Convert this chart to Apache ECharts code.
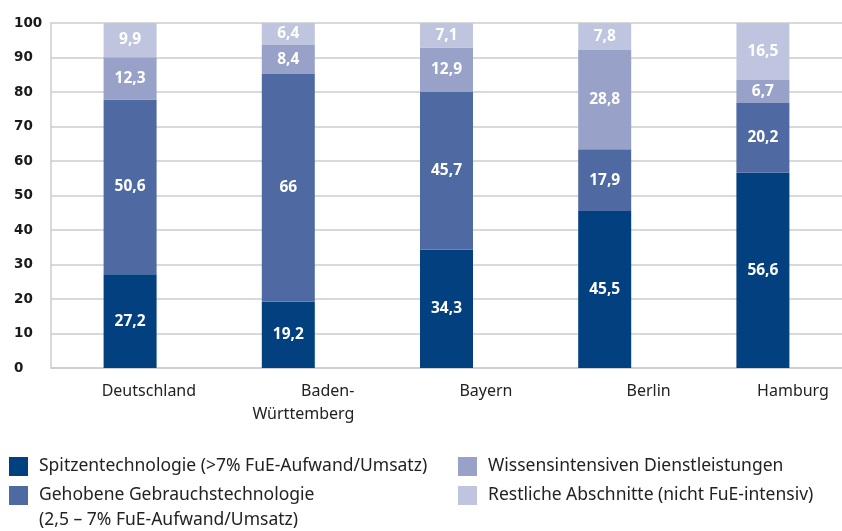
<!DOCTYPE html>
<html>
<head>
<meta charset="utf-8">
<script src="https://cdn.jsdelivr.net/npm/echarts@6/dist/echarts.min.js"></script>
<style>
  html, body { margin: 0; padding: 0; background: #fff; }
  #chart { width: 842px; height: 531px; }
</style>
</head>
<body>
<div id="chart"></div>
<script>
const regions = ['Deutschland', 'Baden-\nWürttemberg', 'Bayern', 'Berlin', 'Hamburg'];
const seriesNames = [
  'Spitzentechnologie (>7% FuE-Aufwand/Umsatz)',
  'Gehobene Gebrauchstechnologie',
  'Wissensintensiven Dienstleistungen',
  'Restliche Abschnitte (nicht FuE-intensiv)',
];
const spitze = [27.2, 19.2, 34.3, 45.5, 56.6];
const gehoben = [50.6, 66, 45.7, 17.9, 20.2];
const wissen = [12.3, 8.4, 12.9, 28.8, 6.7];
const rest = [9.9, 6.4, 7.1, 7.8, 16.5];
const yTicks = [0, 10, 20, 30, 40, 50, 60, 70, 80, 90, 100];

const colors = ['#02407f', '#4f6aa3', '#98a2c8', '#bfc5df'];
const font = '"Noto Sans", sans-serif';

const makeSeries = (name, data, color) => ({
  name,
  type: 'bar',
  stack: 'total',
  barWidth: 53,
  itemStyle: { color },
  label: {
    show: true,
    position: 'inside',
    color: '#fff',
    fontFamily: font,
    fontWeight: 'bold',
    fontSize: 15.5,
    formatter: p => String(p.value).replace('.', ','),
  },
  data,
});

const legendText = { fontFamily: font, fontSize: 17.5, color: '#222', padding: [5, 0, 0, 6] };

const chart = echarts.init(document.getElementById('chart'));
chart.setOption({
  animation: false,
  color: colors,
  grid: { left: 51, right: -2, top: 23, height: 345 },
  title: {
    text: '(2,5 – 7% FuE-Aufwand/Umsatz)',
    left: 39,
    top: 511,
    padding: 0,
    textStyle: { fontFamily: font, fontWeight: 'normal', fontSize: 17.5, color: '#222' },
  },
  legend: [
    {
      data: seriesNames.slice(0, 2),
      orient: 'vertical',
      left: 9,
      top: 457,
      padding: 0,
      itemWidth: 19,
      itemHeight: 19,
      itemGap: 10,
      icon: 'rect',
      textStyle: legendText,
    },
    {
      data: seriesNames.slice(2),
      orient: 'vertical',
      left: 458,
      top: 457,
      padding: 0,
      itemWidth: 19,
      itemHeight: 19,
      itemGap: 10,
      icon: 'rect',
      textStyle: legendText,
    },
  ],
  xAxis: {
    type: 'category',
    data: regions,
    axisLine: { lineStyle: { color: '#cccccc', width: 1.5 } },
    axisTick: { length: 9, lineStyle: { color: '#cccccc', width: 1.5 } },
    axisLabel: {
      margin: 12,
      formatter: v => v.split('\n').map(s => '{a|' + s + '}').join('\n'),
      rich: {
        a: { width: 132, align: 'right', fontFamily: font, fontSize: 16, color: '#222', lineHeight: 23 },
      },
    },
  },
  yAxis: {
    type: 'value',
    min: yTicks[0],
    max: yTicks[yTicks.length - 1],
    interval: 10,
    axisLine: { show: true, lineStyle: { color: '#cccccc', width: 1.5 } },
    splitLine: { lineStyle: { color: '#cccccc', width: 1.5 } },
    axisLabel: {
      align: 'left',
      margin: 37,
      padding: [0, 0, 10, 0],
      fontFamily: '"DejaVu Sans", sans-serif',
      fontWeight: 'bold',
      fontSize: 13.5,
      color: '#1a1a1a',
    },
  },
  series: [
    makeSeries(seriesNames[0], spitze, colors[0]),
    makeSeries(seriesNames[1], gehoben, colors[1]),
    makeSeries(seriesNames[2], wissen, colors[2]),
    makeSeries(seriesNames[3], rest, colors[3]),
  ],
});
</script>
</body>
</html>
